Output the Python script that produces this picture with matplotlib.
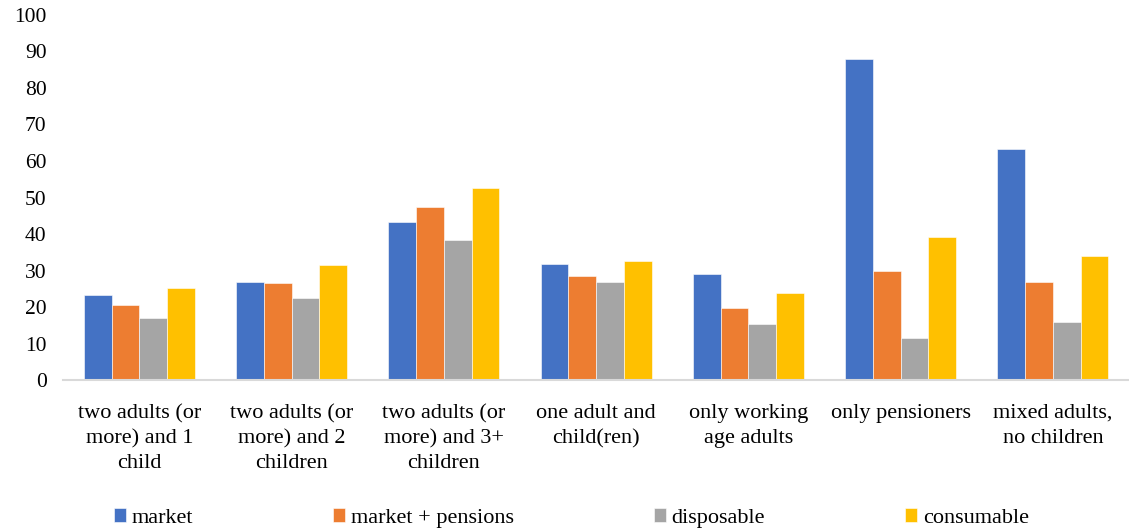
import matplotlib.pyplot as plt
import numpy as np

plt.rcParams['font.family'] = 'serif'
plt.rcParams['font.serif'] = ['Liberation Serif', 'DejaVu Serif']

categories = ["two adults (or\nmore) and 1\nchild",
              "two adults (or\nmore) and 2\nchildren",
              "two adults (or\nmore) and 3+\nchildren",
              "one adult and\nchild(ren)",
              "only working\nage adults",
              "only pensioners",
              "mixed adults,\nno children"]

market = [23.3, 27.0, 43.2, 31.9, 29.1, 87.8, 63.2]
market_pensions = [20.5, 26.7, 47.3, 28.4, 19.8, 29.9, 26.8]
disposable = [17.1, 22.5, 38.4, 27.0, 15.3, 11.6, 15.8]
consumable = [25.3, 31.5, 52.5, 32.5, 24.0, 39.1, 33.9]

series = [("market", market, "#4472C4"),
          ("market + pensions", market_pensions, "#ED7D31"),
          ("disposable", disposable, "#A5A5A5"),
          ("consumable", consumable, "#FFC000")]

fig = plt.figure(figsize=(11.29, 5.31), dpi=100)
ax = fig.add_axes([0.056, 0.284, 0.944, 0.688])

x = np.arange(len(categories))
w = 0.182
for i, (name, vals, col) in enumerate(series):
    ax.bar(x + (i - 1.5) * w, vals, w, color=col, label=name,
           edgecolor='white', linewidth=0.4)

ax.set_xlim(-0.5, len(categories) - 0.5)
ax.set_ylim(0, 100)
ax.set_yticks(range(0, 101, 10))
ax.set_xticks(x)
ax.set_xticklabels(categories, fontsize=16, linespacing=1.42)
ax.tick_params(axis='y', length=0, labelsize=15.5, pad=12)
ax.tick_params(axis='x', length=0, pad=17)

for s in ['top', 'right', 'left']:
    ax.spines[s].set_visible(False)
ax.spines['bottom'].set_color('#d9d9d9')
ax.spines['bottom'].set_linewidth(1.5)

fig.legend(loc='lower center', bbox_to_anchor=(0.506, -0.032), ncol=4,
           frameon=False, fontsize=16, handlelength=0.55, handleheight=0.6,
           handletextpad=0.25, columnspacing=6.3)

plt.savefig('out.png', dpi=100)
plt.close(fig)
